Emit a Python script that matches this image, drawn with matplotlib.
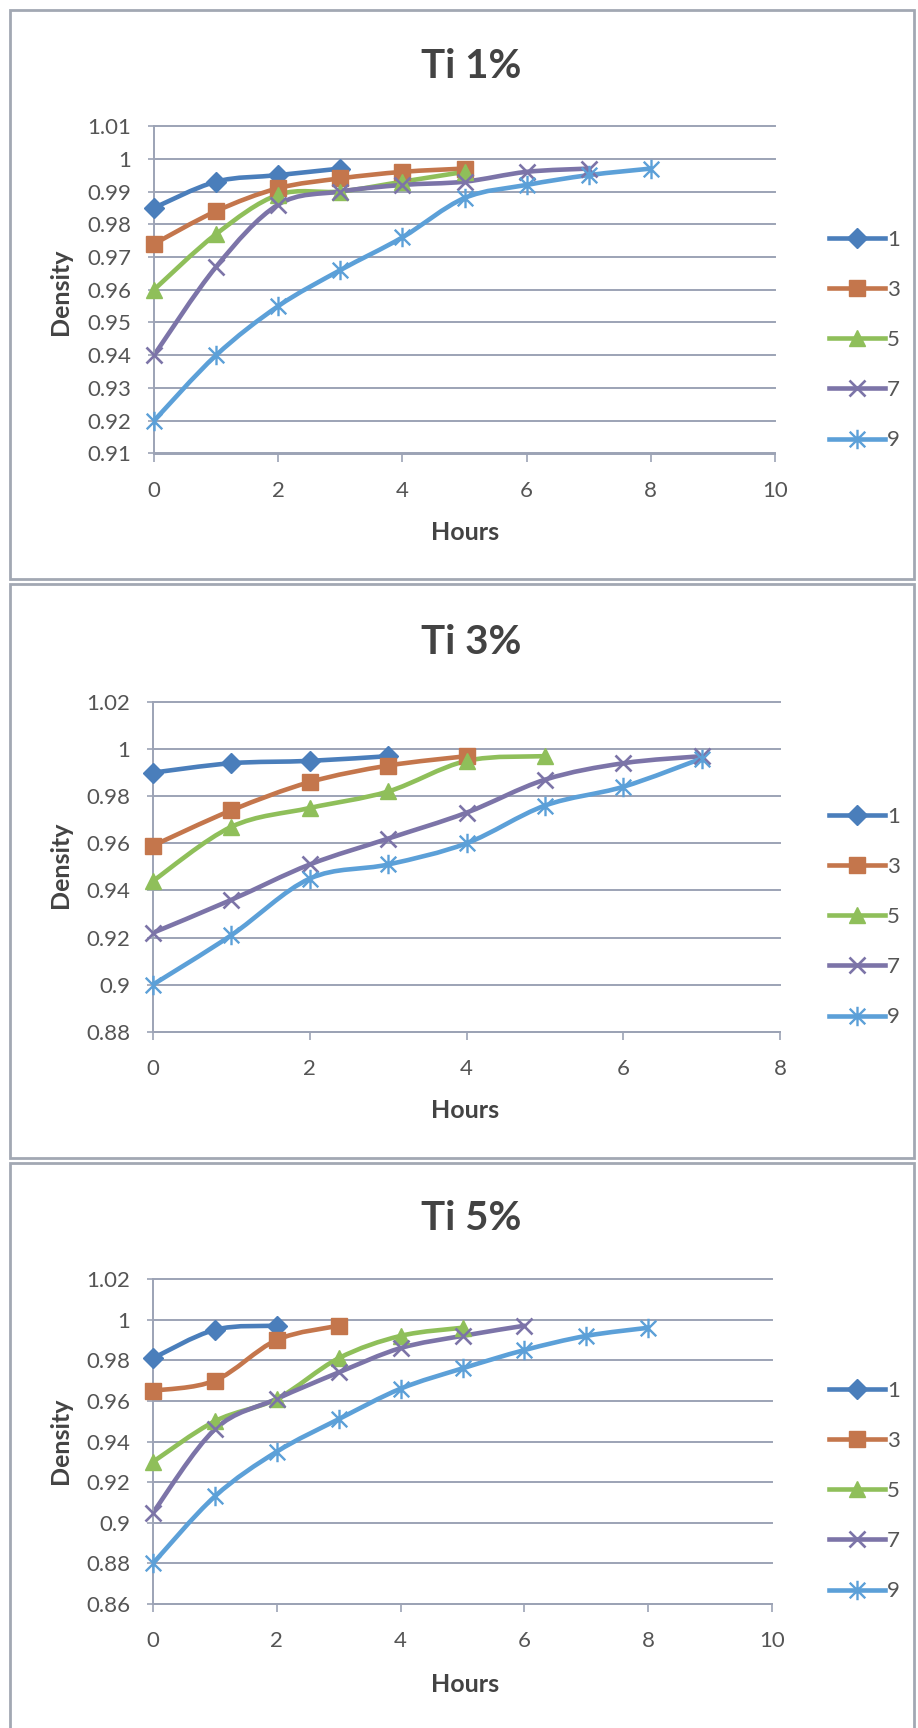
import matplotlib
matplotlib.use("Agg")
import matplotlib.pyplot as plt
from matplotlib.path import Path
from matplotlib.patches import PathPatch, Rectangle
from matplotlib.lines import Line2D
from matplotlib.ticker import FuncFormatter, MultipleLocator

plt.rcParams['font.family'] = ['Lato', 'DejaVu Sans']

W, H = 918, 1728

hours = list(range(9))
series_names = ['1', '3', '5', '7', '9']

# Ti 1%
ti1_s1 = [0.985, 0.993, 0.995, 0.997]
ti1_s3 = [0.974, 0.984, 0.991, 0.994, 0.996, 0.997]
ti1_s5 = [0.960, 0.977, 0.989, 0.990, 0.993, 0.996]
ti1_s7 = [0.940, 0.967, 0.986, 0.990, 0.992, 0.993, 0.996, 0.997]
ti1_s9 = [0.920, 0.940, 0.955, 0.966, 0.976, 0.988, 0.992, 0.995, 0.997]

# Ti 3%
ti3_s1 = [0.990, 0.994, 0.995, 0.997]
ti3_s3 = [0.959, 0.974, 0.986, 0.993, 0.997]
ti3_s5 = [0.944, 0.967, 0.975, 0.982, 0.995, 0.997]
ti3_s7 = [0.922, 0.936, 0.951, 0.962, 0.973, 0.987, 0.994, 0.997]
ti3_s9 = [0.900, 0.921, 0.945, 0.951, 0.960, 0.976, 0.984, 0.996]

# Ti 5%
ti5_s1 = [0.981, 0.995, 0.997]
ti5_s3 = [0.965, 0.970, 0.990, 0.997]
ti5_s5 = [0.930, 0.950, 0.961, 0.981, 0.992, 0.996]
ti5_s7 = [0.905, 0.946, 0.961, 0.974, 0.986, 0.992, 0.997]
ti5_s9 = [0.880, 0.913, 0.935, 0.951, 0.966, 0.976, 0.985, 0.992, 0.996]

colors = ['#4A7EBB', '#C4764C', '#8FBF5A', '#7C74A8', '#5CA0D8']
grid_c = '#9CA3B5'
tick_c = '#555555'
label_c = '#434343'

# asterisk marker: X with a vertical bar
star = Path([(-1, -1), (1, 1), (-1, 1), (1, -1), (0, -1.25), (0, 1.25)],
            [Path.MOVETO, Path.LINETO, Path.MOVETO, Path.LINETO, Path.MOVETO, Path.LINETO])
marker_kw = [
    dict(marker='D', ms=10.5, mfc=colors[0], mec=colors[0]),
    dict(marker='s', ms=11, mfc=colors[1], mec=colors[1]),
    dict(marker='^', ms=12, mfc=colors[2], mec=colors[2]),
    dict(marker='x', ms=12, mec=colors[3], mew=1.9),
    dict(marker=star, ms=14, mec=colors[4], mew=1.7),
]

panels = [
    dict(title='Ti 1%', data=[ti1_s1, ti1_s3, ti1_s5, ti1_s7, ti1_s9],
         ylim=(0.91, 1.01), ystep=0.01, xmax=10,
         box=(154, 775, 126, 453.5), title_y=67, hours_y=533, dens_y=292,
         leg_y=340, frame=(10, 10, 579)),
    dict(title='Ti 3%', data=[ti3_s1, ti3_s3, ti3_s5, ti3_s7, ti3_s9],
         ylim=(0.88, 1.02), ystep=0.02, xmax=8,
         box=(153, 780, 702, 1031.7), title_y=643, hours_y=1111, dens_y=865,
         leg_y=917, frame=(10, 584, 1158)),
    dict(title='Ti 5%', data=[ti5_s1, ti5_s3, ti5_s5, ti5_s7, ti5_s9],
         ylim=(0.86, 1.02), ystep=0.02, xmax=10,
         box=(153, 772, 1279, 1604), title_y=1218, hours_y=1685, dens_y=1441,
         leg_y=1491, frame=(10, 1163, 1740)),
]


def smooth_path(xs, ys):
    # Bezier curve through the points, Excel-style smoothed line
    pts = list(zip(xs, ys))
    n = len(pts)
    verts = [pts[0]]
    codes = [Path.MOVETO]
    for i in range(n - 1):
        p0 = pts[i - 1] if i > 0 else pts[i]
        p1, p2 = pts[i], pts[i + 1]
        p3 = pts[i + 2] if i + 2 < n else pts[i + 1]
        c1 = (p1[0] + (p2[0] - p0[0]) / 6, p1[1] + (p2[1] - p0[1]) / 6)
        c2 = (p2[0] - (p3[0] - p1[0]) / 6, p2[1] - (p3[1] - p1[1]) / 6)
        verts += [c1, c2, p2]
        codes += [Path.CURVE4] * 3
    return Path(verts, codes)


def fmt(v, pos):
    return f"{v:.2f}".rstrip('0').rstrip('.')


fig = plt.figure(figsize=(W / 100, H / 100), dpi=100)
fig.patch.set_facecolor('white')

for p in panels:
    fx, ftop, fbot = p['frame']
    fig.add_artist(Rectangle((fx / W, 1 - fbot / H), (914 - fx) / W, (fbot - ftop) / H,
                             transform=fig.transFigure, fill=False,
                             ec='#A2A8B3', lw=2))

    l, r, t, b = p['box']
    ax = fig.add_axes([l / W, 1 - b / H, (r - l) / W, (b - t) / H])
    ax.set_xlim(0, p['xmax'])
    ax.set_ylim(*p['ylim'])
    ax.xaxis.set_major_locator(MultipleLocator(2))
    ax.yaxis.set_major_locator(MultipleLocator(p['ystep']))
    ax.yaxis.set_major_formatter(FuncFormatter(fmt))
    ax.set_axisbelow(True)
    ax.yaxis.grid(True, color=grid_c, lw=1.4)
    for gl in ax.get_ygridlines():
        gl.set_clip_on(False)
    for side in ('top', 'right'):
        ax.spines[side].set_visible(False)
    for side in ('left', 'bottom'):
        ax.spines[side].set_color(grid_c)
        ax.spines[side].set_linewidth(1.4)
    ax.tick_params(axis='y', length=4.3, width=1.2, color=grid_c, pad=12,
                   labelsize=16, labelcolor=tick_c)
    ax.tick_params(axis='x', length=5.5, width=1.2, color=grid_c, pad=14,
                   labelsize=16, labelcolor=tick_c)

    handles = []
    for vals, c, mk in zip(p['data'], colors, marker_kw):
        xs = hours[:len(vals)]
        ax.add_patch(PathPatch(smooth_path(xs, vals), fill=False, ec=c, lw=3.3,
                               capstyle='round', joinstyle='round', zorder=2))
        ax.plot(xs, vals, ls='none', zorder=3, clip_on=False, **mk)
        handles.append(Line2D([], [], color=c, lw=3.3, **mk))

    fig.legend(handles, series_names, loc='center left',
               bbox_to_anchor=(829 / W, 1 - p['leg_y'] / H),
               frameon=False, handlelength=2.5, handletextpad=0.12,
               labelspacing=1.36, borderpad=0, borderaxespad=0,
               fontsize=16, labelcolor=tick_c)

    fig.text(471 / W, 1 - p['title_y'] / H, p['title'], ha='center', va='center',
             fontsize=29, fontweight='bold', color=label_c)
    fig.text(465 / W, 1 - p['hours_y'] / H, 'Hours', ha='center', va='center',
             fontsize=18, fontweight='bold', color=label_c)
    fig.text(61 / W, 1 - p['dens_y'] / H, 'Density', ha='center', va='center',
             rotation=90, fontsize=18, fontweight='bold', color=label_c)

fig.savefig('out.png', dpi=100, facecolor='white')
